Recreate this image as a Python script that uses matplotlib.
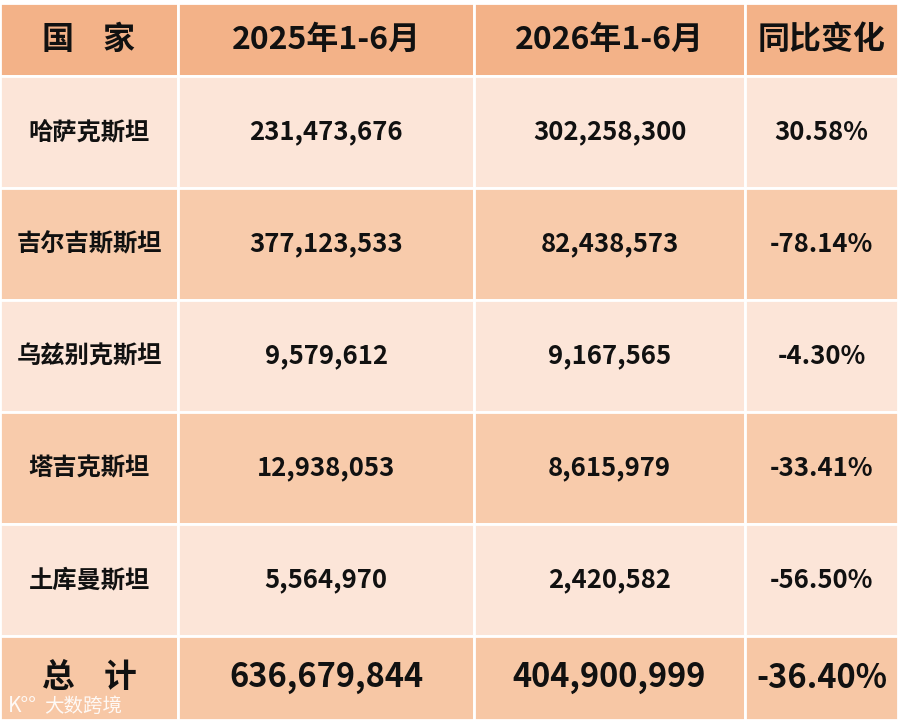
import matplotlib
matplotlib.use("Agg")
import matplotlib.pyplot as plt
from matplotlib.patches import Rectangle

plt.rcParams['font.family'] = ['Noto Sans CJK SC', 'DejaVu Sans']

# table content
headers = ["国    家", "2025年1-6月", "2026年1-6月", "同比变化"]
countries = ["哈萨克斯坦", "吉尔吉斯斯坦", "乌兹别克斯坦", "塔吉克斯坦", "土库曼斯坦"]
h1_2025 = ["231,473,676", "377,123,533", "9,579,612", "12,938,053", "5,564,970"]
h1_2026 = ["302,258,300", "82,438,573", "9,167,565", "8,615,979", "2,420,582"]
yoy = ["30.58%", "-78.14%", "-4.30%", "-33.41%", "-56.50%"]
total = ["总    计", "636,679,844", "404,900,999", "-36.40%"]

# layout in pixels
col_edges = [0, 178, 474, 745, 898]
row_edges = [3, 76, 188, 300, 412, 524, 636, 720]

header_color = "#F3B288"
light_color = "#FCE5D8"
dark_color = "#F8CBAB"
total_color = "#F7C7A5"

fig = plt.figure(figsize=(9, 7.24), dpi=100)
ax = fig.add_axes([0, 0, 1, 1])
ax.set_xlim(0, 900)
ax.set_ylim(724, 0)
ax.axis("off")

rows = [headers] + [list(r) for r in zip(countries, h1_2025, h1_2026, yoy)] + [total]

for i, row in enumerate(rows):
    y0, y1 = row_edges[i], row_edges[i + 1]
    if i == 0:
        fc = header_color
        fs = 23
    elif i == len(rows) - 1:
        fc = total_color
        fs = 23.5
    else:
        fc = light_color if i % 2 == 1 else dark_color
        fs = 17.5
    for j, txt in enumerate(row):
        x0, x1 = col_edges[j], col_edges[j + 1]
        ax.add_patch(Rectangle((x0, y0), x1 - x0, y1 - y0, facecolor=fc,
                               edgecolor="white", linewidth=2))
        size = fs
        if 0 < i < len(rows) - 1 and j > 0:
            size = 18.5
        ax.text((x0 + x1) / 2, (y0 + y1) / 2, txt, ha="center", va="center",
                fontsize=size, fontweight="bold", color="#111111")

# watermark
ax.text(8, 706, "K°°", ha="left", va="center", fontsize=15,
        color="white", alpha=0.9)
ax.text(44, 706, "大数跨境", ha="left", va="center", fontsize=14,
        color="white", alpha=0.9)

fig.savefig("out.png", dpi=100, facecolor="white")
